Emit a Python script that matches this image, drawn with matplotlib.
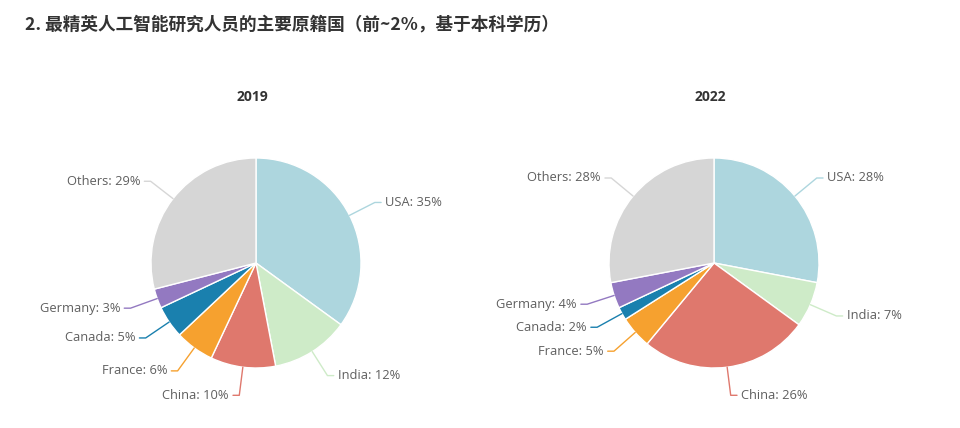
import numpy as np
import matplotlib
matplotlib.use("Agg")
import matplotlib.pyplot as plt

plt.rcParams['font.family'] = ['Open Sans', 'DejaVu Sans']

TITLE = "2. 最精英人工智能研究人员的主要原籍国（前~2%，基于本科学历）"
countries = ["USA", "India", "China", "France", "Canada", "Germany", "Others"]
share_2019 = [35, 12, 10, 6, 5, 3, 29]
share_2022 = [28, 7, 26, 5, 2, 4, 28]
colors = ["#add6de", "#ceebc8", "#df786d", "#f6a12f", "#1a80ae", "#9379c1", "#d6d6d6"]

W, H = 960, 428
R_PX = 105


def spread(items, gap=0.2):
    # push labels upwards on one side so they do not overlap
    items.sort(key=lambda it: it["y"])
    for a, b in zip(items, items[1:]):
        if b["y"] - a["y"] < gap:
            b["y"] = a["y"] + gap


def draw_pie(fig, year, values, cx, cy, x0, x1, top=40):
    s = R_PX
    ax = fig.add_axes([x0 / W, 0, (x1 - x0) / W, (H - top) / H])
    wedges, _ = ax.pie(values, colors=colors, startangle=90, counterclock=False,
                       radius=1, wedgeprops=dict(edgecolor="white", linewidth=1))
    ax.set_aspect("auto")
    ax.set_xlim((x0 - cx) / s, (x1 - cx) / s)
    ax.set_ylim((cy - H) / s, (cy - top) / s)
    ax.axis("off")
    ax.text(-4 / s, (cy - 97) / s, year, ha="center", va="center",
            fontsize=10, fontweight="bold", color="#333333")

    rl = 1.27
    left, right = [], []
    for w, name, v, c in zip(wedges, countries, values, colors):
        ang = np.deg2rad((w.theta1 + w.theta2) / 2)
        dx, dy = np.cos(ang), np.sin(ang)
        it = dict(name=name, v=v, c=c, dx=dx, dy=dy, y=rl * dy, x=rl * dx)
        (left if dx < 0 else right).append(it)
    spread(left)
    spread(right)

    for it in left + right:
        sign = -1 if it["dx"] < 0 else 1
        y = it["y"]
        if abs(y) < rl:
            ex = sign * np.sqrt(rl ** 2 - y ** 2)
            if abs(ex) < abs(it["x"]):
                ex = it["x"]
        else:
            ex = it["x"]
        x2 = ex + sign * 0.06
        ax.plot([it["dx"], ex, x2], [it["dy"], y, y], color=it["c"], lw=1,
                solid_capstyle="round", solid_joinstyle="round")
        ax.text(x2 + sign * 0.04, y, f"{it['name']}: {it['v']}%",
                ha="left" if sign > 0 else "right", va="center",
                fontsize=9.3, color="#5f5f5f")


fig = plt.figure(figsize=(W / 100, H / 100), dpi=100)
fig.text(25 / W, 1 - 24 / H, TITLE, ha="left", va="center", fontsize=12.7,
         fontweight="bold", color="#333333",
         family=["Noto Sans CJK SC", "DejaVu Sans"])

draw_pie(fig, "2019", share_2019, 256, 263, 0, 480)
draw_pie(fig, "2022", share_2022, 714, 263, 480, 960)

fig.savefig("out.png", dpi=100, facecolor="white")
